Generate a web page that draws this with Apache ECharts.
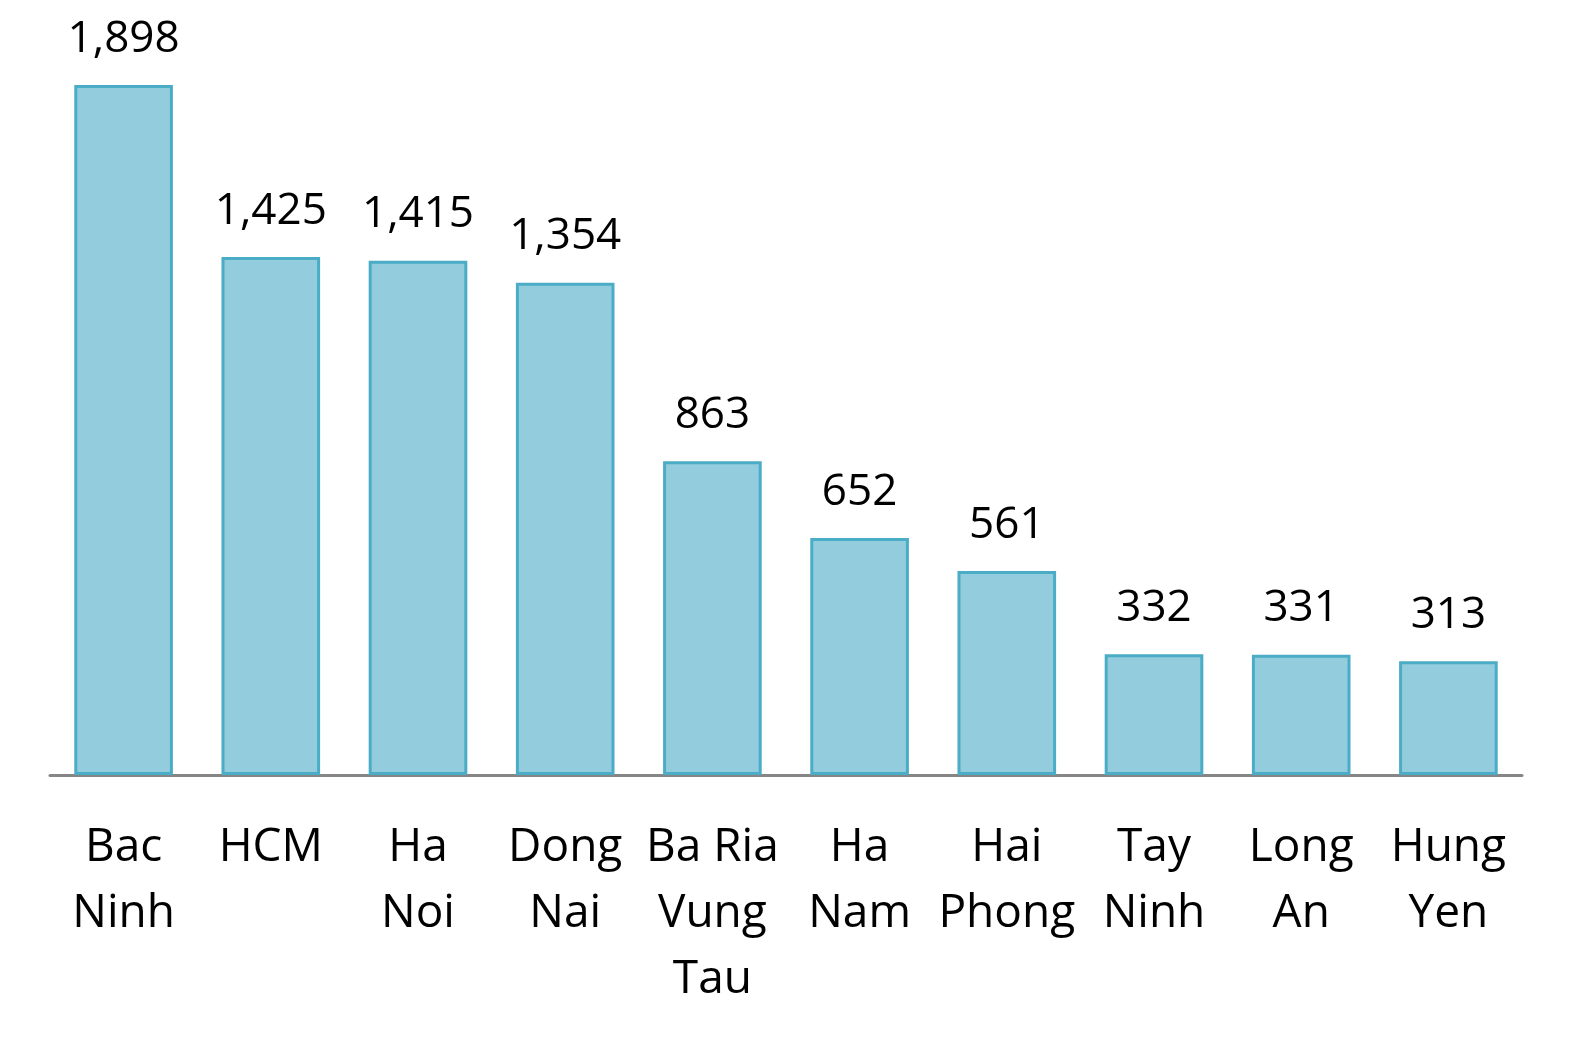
<!DOCTYPE html>
<html>
<head>
<meta charset="utf-8">
<script src="https://cdn.jsdelivr.net/npm/echarts@6/dist/echarts.min.js"></script>
<style>
  html, body { margin: 0; padding: 0; background: #fff; }
  #chart { width: 1574px; height: 1042px; }
</style>
</head>
<body>
<div id="chart"></div>
<script>
const provinces = ['Bac\nNinh', 'HCM', 'Ha\nNoi', 'Dong\nNai', 'Ba Ria\nVung\nTau', 'Ha\nNam', 'Hai\nPhong', 'Tay\nNinh', 'Long\nAn', 'Hung\nYen'];
const values = [1898, 1425, 1415, 1354, 863, 652, 561, 332, 331, 313];

const chart = echarts.init(document.getElementById('chart'));
const font = '"Open Sans", "Noto Sans", sans-serif';

chart.setOption({
    animation: false,
    grid: { left: 50, right: 52, top: 48, bottom: 267, containLabel: false },
    xAxis: {
        type: 'category',
        data: provinces,
        axisLine: { lineStyle: { color: '#868686', width: 3 } },
        axisTick: { show: false },
        axisLabel: {
            interval: 0,
            margin: 40,
            color: '#000',
            fontFamily: font,
            fontSize: 46,
            lineHeight: 66
        }
    },
    yAxis: {
        type: 'value',
        min: 0,
        max: 2000,
        show: false,
        splitLine: { show: false }
    },
    series: [{
        type: 'bar',
        data: values,
        barWidth: '67%',
        itemStyle: { color: '#93CDDD', borderColor: '#4BACC6', borderWidth: 3 },
        label: {
            show: true,
            position: 'top',
            distance: 24,
            color: '#000',
            fontFamily: font,
            fontSize: 44,
            lineHeight: 44,
            formatter: p => p.value.toLocaleString('en-US')
        }
    }]
});
</script>
</body>
</html>
